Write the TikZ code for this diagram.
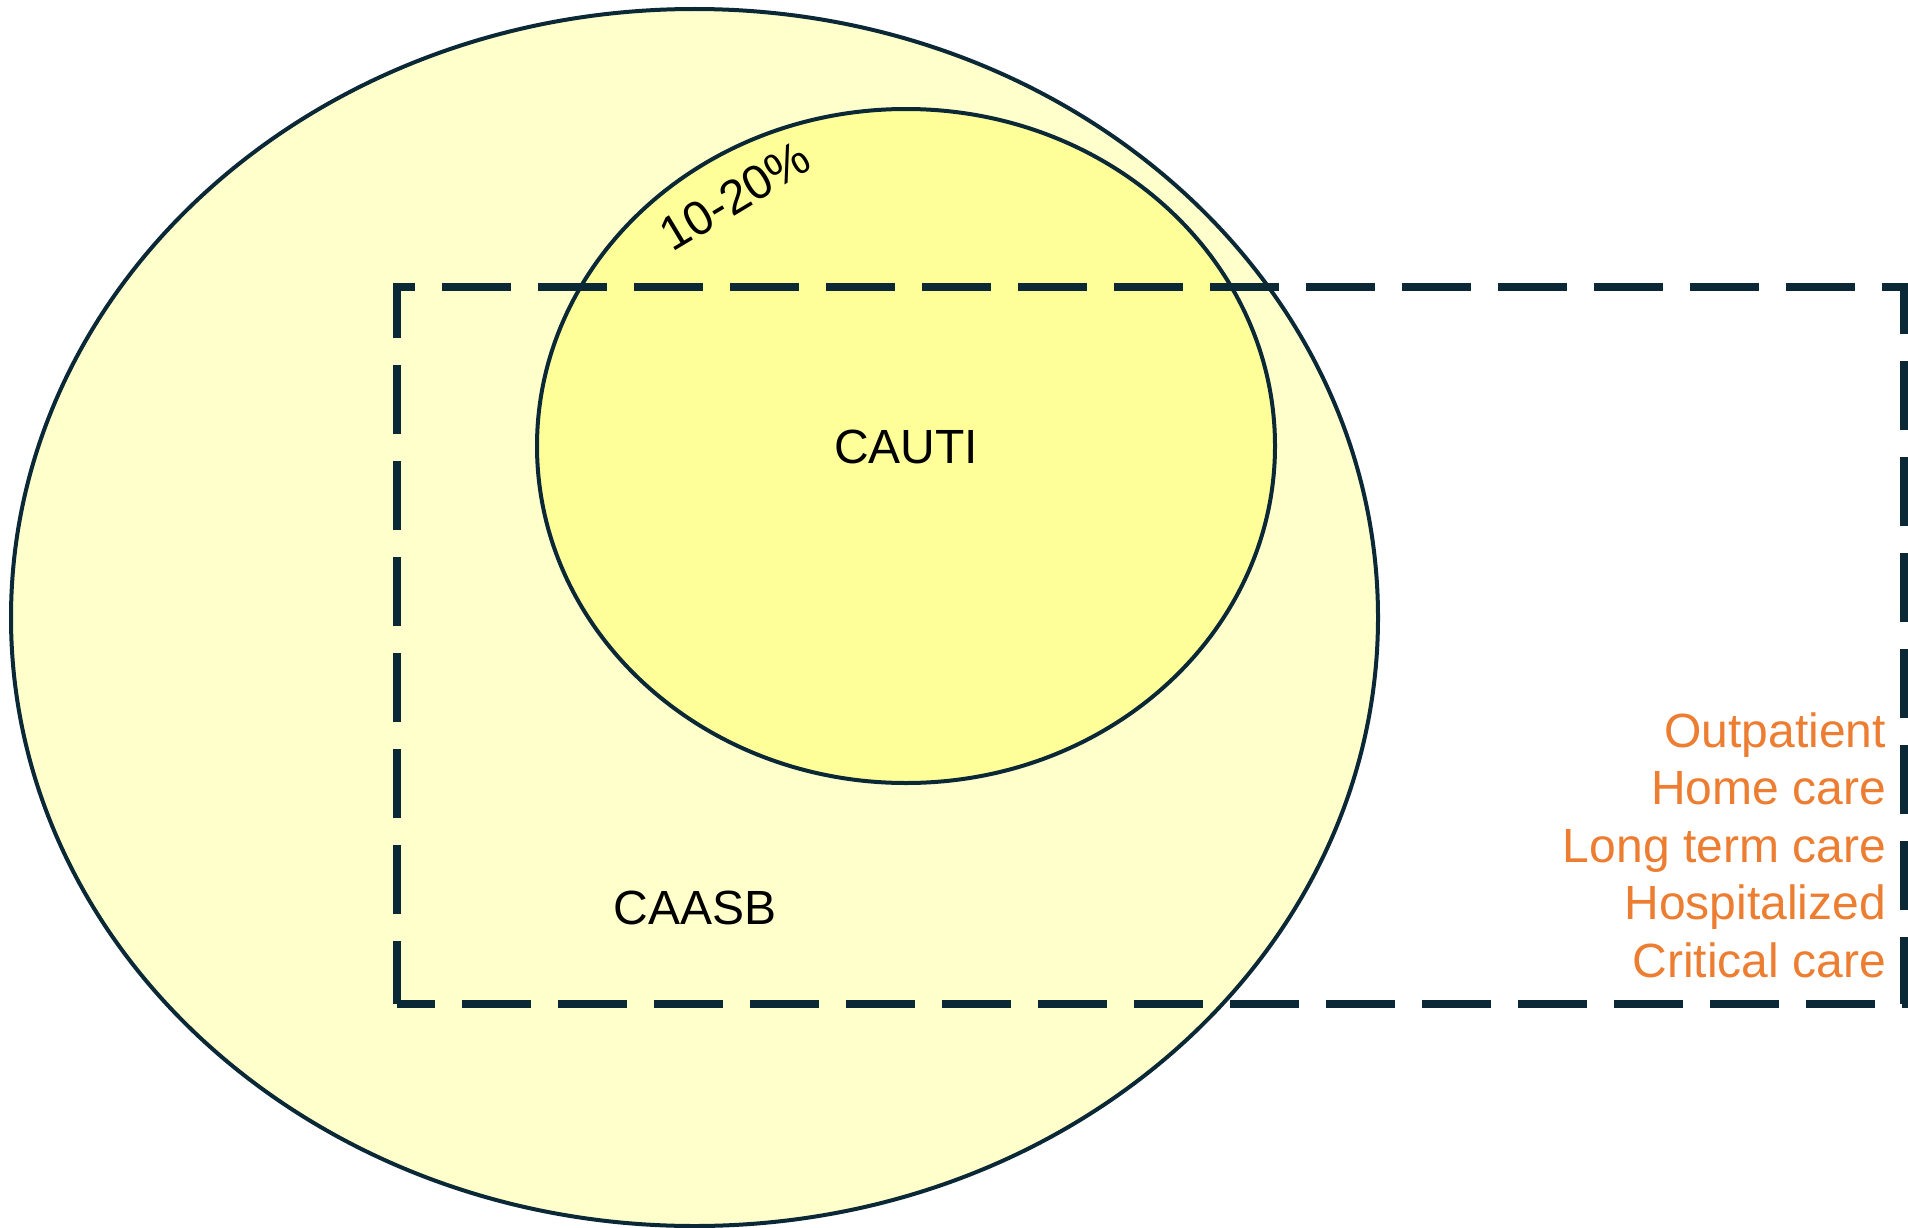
\documentclass[tikz,border=0pt]{standalone}
\usepackage{fontspec}
\setmainfont{Liberation Sans}
\definecolor{outline}{HTML}{0B2837}
\definecolor{paleyellow}{HTML}{FFFFCC}
\definecolor{brightyellow}{HTML}{FFFF99}
\definecolor{careorange}{HTML}{ED7D31}
\tikzset{
  setring/.style={draw=outline, line width=4pt},
  settingbox/.style={draw=outline, line width=8pt, dash pattern=on 69pt off 27pt, dash phase=6pt, line join=miter},
  lbl/.style={inner sep=0pt, font=\fontsize{48pt}{57.5pt}\selectfont},
  carelbl/.style={lbl, text=careorange, anchor=base east}
}
\begin{document}
\begin{tikzpicture}[x=1pt, y=-1pt]
  \useasboundingbox (0,0) rectangle (1908,1228);
  \fill[white] (0,0) rectangle (1908,1228);

  % asymptomatic bacteriuria, with infection as a subset
  \draw[setring, fill=paleyellow] (694.5,617.5) ellipse [x radius=683.5pt, y radius=608.5pt];
  \draw[setring, fill=brightyellow] (906,446) ellipse [x radius=369pt, y radius=337pt];

  % care settings
  \coordinate (bl) at (397,1004);
  \coordinate (tl) at (397,287);
  \coordinate (tr) at (1904,287);
  \coordinate (br) at (1904,1004);
  \draw[settingbox] (bl) -- (tl) -- (tr) -- (br) -- cycle;

  \node[lbl] (cauti) at (906,447) {CAUTI};
  \node[lbl] (caasb) at (695,908) {CAASB};
  \node[lbl, rotate=31] (pct) at (735,196) {10-20\%};

  \node[carelbl] (outp) at (1886,747) {Outpatient};
  \node[carelbl] (home) at (1886,804.5) {Home care};
  \node[carelbl] (ltc)  at (1886,862) {Long term care};
  \node[carelbl] (hosp) at (1886,919.5) {Hospitalized};
  \node[carelbl] (crit) at (1886,977) {Critical care};
\end{tikzpicture}
\end{document}
